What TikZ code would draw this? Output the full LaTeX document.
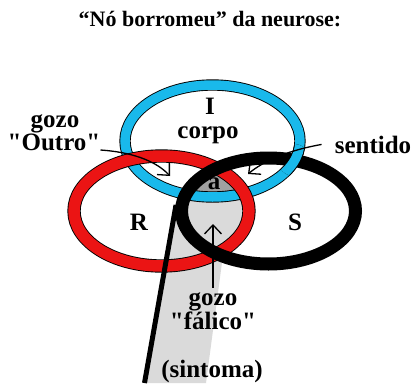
\documentclass[tikz,border=0pt]{standalone}
\usepackage{fontspec}
\setmainfont{Liberation Serif}[Ligatures=TeXOff]
\usetikzlibrary{arrows.meta}
\definecolor{azulI}{RGB}{25,185,235}
\definecolor{vermR}{RGB}{235,20,20}
\definecolor{cinzaA}{RGB}{160,160,160}
\definecolor{cinzaS}{RGB}{218,218,218}
\tikzset{
  rotulo/.style={font=\bfseries\fontsize{25}{28}\selectfont, inner sep=0pt, anchor=base},
  seta/.style={line width=1.3pt, -{Straight Barb[length=9pt,width=17pt]}},
  anelI/.style={line width=0.9pt, double=azulI, double distance=9.5pt},
  anelR/.style={line width=0.9pt, double=vermR, double distance=11.5pt},
  anelS/.style={line width=13pt, black},
}

\begin{document}
\begin{tikzpicture}[x=1pt,y=-1pt]
\useasboundingbox (0,0) rectangle (415,383);
% centros dos aneis
\coordinate (cI) at (212.5,141);
\coordinate (cR) at (161.5,211);
\coordinate (cS) at (268.5,211);
\coordinate (sA) at (176,205);
\coordinate (sB) at (144.5,383);

% zonas cinzentas
\fill[cinzaS] (sA) -- (sB) -- (206,383) -- (223,255) -- cycle;
\begin{scope}
  \clip (cR) ellipse [x radius=87.5, y radius=55];
  \clip (cS) ellipse [x radius=87, y radius=53];
  \fill[cinzaS] (150,140) rectangle (280,280);
  \clip (cI) ellipse [x radius=87.5, y radius=56];
  \fill[cinzaA] (150,140) rectangle (280,280);
\end{scope}

% aneis
\draw[anelI] (cI) ellipse [x radius=87.5, y radius=56];
\draw[anelR] (cR) ellipse [x radius=87.5, y radius=55];
\draw[anelS] (cS) ellipse [x radius=87, y radius=53];
\begin{scope}
  \clip (294,160) circle (16);
  \draw[anelI] (cI) ellipse [x radius=87.5, y radius=56];
\end{scope}
\draw[line width=5pt] (sA) -- (sB);

% textos
\node[font=\bfseries\fontsize{22}{26}\selectfont, inner sep=0pt, anchor=base] (titulo) at (210,26) {“Nó borromeu” da neurose:};
\node[rotulo] (I) at (210,114) {I};
\node[rotulo] (corpo) at (208,138) {corpo};
\node[rotulo] (a) at (214,189) {a};
\node[rotulo] (R) at (139,230) {R};
\node[rotulo] (S) at (295,230) {S};
\node[rotulo] (gozoO) at (55,127) {gozo};
\node[rotulo] (outro) at (54,150) {"Outro"};
\node[rotulo] (sentido) at (373,153) {sentido};
\node[rotulo] (gozoF) at (213,305) {gozo};
\node[rotulo] (falico) at (213,329) {"fálico"};
\node[rotulo] (sintoma) at (212,377) {(sintoma)};

% setas
\coordinate (pO) at (170,176);
\coordinate (pS) at (248,174);
\coordinate (pF) at (213,224);
\draw[seta] (outro.base east) .. controls (130,152) and (155,160) .. (pO);
\draw[seta] ([xshift=-13pt]sentido.west) .. controls (290,150) and (265,160) .. (pS);
\draw[seta] ([yshift=4pt]gozoF.north) -- (pF);
\end{tikzpicture}
\end{document}
